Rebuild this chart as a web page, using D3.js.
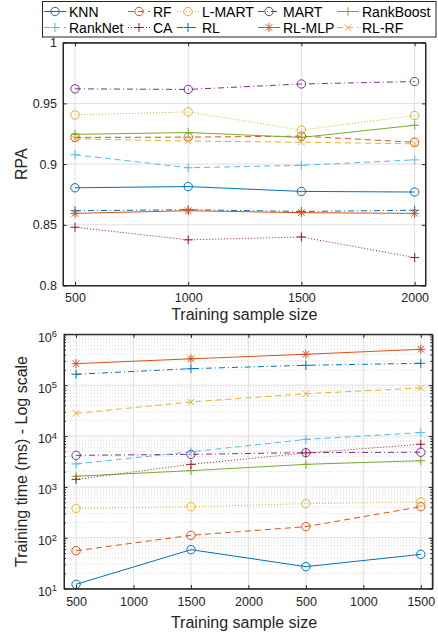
<!DOCTYPE html>
<html>
<head>
<meta charset="utf-8">
<script src="https://cdn.jsdelivr.net/npm/d3@7"></script>
<style>
  body { margin: 0; background: #fff; }
  svg { font-family: "Liberation Sans", Arial, Helvetica, sans-serif; }
</style>
</head>
<body>
<div id="chart"></div>
<script>
// Data.
var methods = ["KNN", "RF", "L-MART", "MART", "RankBoost", "RankNet", "CA", "RL", "RL-MLP", "RL-RF"];

var rpaSizes = [500, 1000, 1500, 2000];
var rpaValues = {
  "KNN":       [0.8805, 0.8815, 0.8775, 0.8770],
  "RF":        [0.9220, 0.9222, 0.9230, 0.9180],
  "L-MART":    [0.9405, 0.9430, 0.9280, 0.9400],
  "MART":      [0.9620, 0.9615, 0.9660, 0.9680],
  "RankBoost": [0.9245, 0.9260, 0.9220, 0.9320],
  "RankNet":   [0.9077, 0.8970, 0.8990, 0.9035],
  "CA":        [0.8480, 0.8376, 0.8400, 0.8230],
  "RL":        [0.8616, 0.8624, 0.8610, 0.8620],
  "RL-MLP":    [0.8594, 0.8616, 0.8600, 0.8594],
  "RL-RF":     [0.9208, 0.9190, 0.9180, 0.9167]
};
var rpaTicks = [0.8, 0.85, 0.9, 0.95, 1];

// Bottom panel: odd x axis with repeating labels; data sits on every other tick.
var timeTickLabels = ["500", "1000", "1500", "2000", "500", "1000", "1500"];
var timeIdx = [0, 2, 4, 6];
var timeValues = {
  "KNN":       [12.2, 58.5, 27.1, 47.3],
  "RF":        [55.8, 112, 166, 409],
  "L-MART":    [379, 409, 469, 506],
  "MART":      [4180, 4370, 4720, 4800],
  "RankBoost": [1620, 2090, 2780, 3280],
  "RankNet":   [2830, 4900, 8600, 11700],
  "CA":        [1410, 2780, 4650, 6900],
  "RL":        [164000, 211000, 246000, 269000],
  "RL-MLP":    [265000, 330000, 405000, 507000],
  "RL-RF":     [28000, 46800, 68000, 88000]
};

// MATLAB-like styles.
var style = {
  "KNN":       { color: "#0072BD", dash: null,      marker: "o" },
  "RF":        { color: "#D95319", dash: "6,4",     marker: "o" },
  "L-MART":    { color: "#EDB120", dash: "1,2",     marker: "o" },
  "MART":      { color: "#7E2F8E", dash: "6,3,1,3", marker: "o" },
  "RankBoost": { color: "#77AC30", dash: null,      marker: "+" },
  "RankNet":   { color: "#4DBEEE", dash: "6,4",     marker: "+" },
  "CA":        { color: "#A2142F", dash: "1,2",     marker: "+" },
  "RL":        { color: "#0072BD", dash: "6,3,1,3", marker: "+" },
  "RL-MLP":    { color: "#D95319", dash: null,      marker: "*" },
  "RL-RF":     { color: "#EDB120", dash: "6,4",     marker: "x" }
};

var svg = d3.select("#chart").append("svg")
  .attr("width", 438)
  .attr("height", 634);

var axisColor = "#262626";
var gridColor = "#dfdfdf";

function drawMarker(g, type, x, y, color) {
  if (type === "o") {
    g.append("circle").attr("cx", x).attr("cy", y).attr("r", 4.2)
      .attr("fill", "none").attr("stroke", color).attr("stroke-width", 1);
  } else if (type === "+") {
    g.append("path").attr("d", `M${x - 4.5},${y}H${x + 4.5}M${x},${y - 4.5}V${y + 4.5}`)
      .attr("stroke", color).attr("stroke-width", 1);
  } else if (type === "x") {
    g.append("path").attr("d", `M${x - 3.3},${y - 3.3}L${x + 3.3},${y + 3.3}M${x - 3.3},${y + 3.3}L${x + 3.3},${y - 3.3}`)
      .attr("stroke", color).attr("stroke-width", 1);
  } else if (type === "*") {
    g.append("path").attr("d", `M${x - 4.5},${y}H${x + 4.5}M${x},${y - 4.5}V${y + 4.5}M${x - 3.3},${y - 3.3}L${x + 3.3},${y + 3.3}M${x - 3.3},${y + 3.3}L${x + 3.3},${y - 3.3}`)
      .attr("stroke", color).attr("stroke-width", 1);
  }
}

function drawSeries(g, xs, ys, xScale, yScale) {
  methods.forEach(function (m) {
    var s = style[m];
    var pts = xs.map((x, i) => [xScale(x), yScale(ys[m][i])]);
    g.append("path")
      .attr("d", d3.line()(pts))
      .attr("fill", "none")
      .attr("stroke", s.color)
      .attr("stroke-width", 1)
      .attr("stroke-dasharray", s.dash);
    pts.forEach(p => drawMarker(g, s.marker, p[0], p[1], s.color));
  });
}

// ---------- Top panel: RPA ----------
var box1 = { left: 63, right: 425.5, top: 42.7, bottom: 285.5 };
var x1 = d3.scaleLinear().domain([447, 2048]).range([box1.left, box1.right]);
var y1 = d3.scaleLinear().domain([0.8, 1]).range([box1.bottom, box1.top]);

var g1 = svg.append("g");

// grid
g1.selectAll(".vgrid").data(rpaSizes).enter().append("line")
  .attr("x1", d => x1(d)).attr("x2", d => x1(d))
  .attr("y1", box1.top).attr("y2", box1.bottom)
  .attr("stroke", gridColor).attr("stroke-width", 1);
g1.selectAll(".hgrid").data(rpaTicks).enter().append("line")
  .attr("x1", box1.left).attr("x2", box1.right)
  .attr("y1", d => y1(d)).attr("y2", d => y1(d))
  .attr("stroke", gridColor).attr("stroke-width", 1);

drawSeries(g1, rpaSizes, rpaValues, x1, y1);

// axes (ticks inside, box on)
var tk = 3.6;
g1.append("g").attr("transform", `translate(0,${box1.bottom})`)
  .call(d3.axisBottom(x1).tickValues(rpaSizes).tickSizeInner(-tk).tickSizeOuter(0).tickPadding(8).tickFormat(d3.format("d")));
g1.append("g").attr("transform", `translate(0,${box1.top})`)
  .call(d3.axisTop(x1).tickValues(rpaSizes).tickSizeInner(-tk).tickSizeOuter(0).tickFormat(""));
g1.append("g").attr("transform", `translate(${box1.left},0)`)
  .call(d3.axisLeft(y1).tickValues(rpaTicks).tickSizeInner(-tk).tickSizeOuter(0).tickPadding(6).tickFormat(d => d === 1 ? "1" : d3.format("")(d)));
g1.append("g").attr("transform", `translate(${box1.right},0)`)
  .call(d3.axisRight(y1).tickValues(rpaTicks).tickSizeInner(-tk).tickSizeOuter(0).tickFormat(""));

g1.append("text")
  .attr("x", (box1.left + box1.right) / 2).attr("y", 320)
  .attr("text-anchor", "middle").attr("font-size", 16).attr("fill", axisColor)
  .text("Training sample size");
g1.append("text")
  .attr("transform", `translate(27,${(box1.top + box1.bottom) / 2}) rotate(-90)`)
  .attr("text-anchor", "middle").attr("font-size", 16).attr("fill", axisColor)
  .text("RPA");

// ---------- Bottom panel: training time ----------
var box2 = { left: 64, right: 432.3, top: 334.3, bottom: 588.7 };
var x2 = d3.scaleLinear().domain([-0.21, 6.2]).range([box2.left, box2.right]);
var y2 = d3.scaleLog().domain([10, 1e6]).range([box2.bottom, box2.top]);

var g2 = svg.append("g");

var decades = [10, 100, 1000, 10000, 100000, 1000000];
var minors = [];
decades.slice(0, -1).forEach(function (d) {
  for (var k = 2; k <= 9; k++) minors.push(d * k);
});

g2.selectAll(".mgrid").data(minors).enter().append("line")
  .attr("x1", box2.left).attr("x2", box2.right)
  .attr("y1", d => y2(d)).attr("y2", d => y2(d))
  .attr("stroke", "#d0d0d0").attr("stroke-width", 0.8)
  .attr("stroke-dasharray", "1,2");
g2.selectAll(".vgrid").data(d3.range(timeTickLabels.length)).enter().append("line")
  .attr("x1", d => x2(d)).attr("x2", d => x2(d))
  .attr("y1", box2.top).attr("y2", box2.bottom)
  .attr("stroke", gridColor).attr("stroke-width", 1);
g2.selectAll(".hgrid").data(decades).enter().append("line")
  .attr("x1", box2.left).attr("x2", box2.right)
  .attr("y1", d => y2(d)).attr("y2", d => y2(d))
  .attr("stroke", gridColor).attr("stroke-width", 1);

drawSeries(g2, timeIdx, timeValues, x2, y2);

g2.append("g").attr("transform", `translate(0,${box2.bottom})`)
  .call(d3.axisBottom(x2).tickValues(d3.range(timeTickLabels.length)).tickSizeInner(-tk).tickSizeOuter(0).tickPadding(8).tickFormat(i => timeTickLabels[i]));
g2.append("g").attr("transform", `translate(0,${box2.top})`)
  .call(d3.axisTop(x2).tickValues(d3.range(timeTickLabels.length)).tickSizeInner(-tk).tickSizeOuter(0).tickFormat(""));
var yLeft = g2.append("g").attr("transform", `translate(${box2.left},0)`)
  .call(d3.axisLeft(y2).tickValues(decades).tickSizeInner(-tk).tickSizeOuter(0).tickPadding(7).tickFormat(""));
g2.append("g").attr("transform", `translate(${box2.right},0)`)
  .call(d3.axisRight(y2).tickValues(decades).tickSizeInner(-tk).tickSizeOuter(0).tickFormat(""));
// minor ticks
g2.append("g").attr("transform", `translate(${box2.left},0)`)
  .call(d3.axisLeft(y2).tickValues(minors).tickSizeInner(-2).tickSizeOuter(0).tickFormat(""));
g2.append("g").attr("transform", `translate(${box2.right},0)`)
  .call(d3.axisRight(y2).tickValues(minors).tickSizeInner(-2).tickSizeOuter(0).tickFormat(""));

// 10^n labels
yLeft.selectAll(".tick").each(function (d) {
  var t = d3.select(this).select("text").text(null);
  t.append("tspan").text("10");
  t.append("tspan").attr("dy", "-0.5em").attr("font-size", "0.75em").text(Math.round(Math.log10(d)));
  t.attr("dy", "0.55em");
});

g2.append("text")
  .attr("x", 244).attr("y", 628)
  .attr("text-anchor", "middle").attr("font-size", 16).attr("fill", axisColor)
  .text("Training sample size");
g2.append("text")
  .attr("transform", `translate(27,${(box2.top + box2.bottom) / 2}) rotate(-90)`)
  .attr("text-anchor", "middle").attr("font-size", 16).attr("fill", axisColor)
  .text("Training time (ms) - Log scale");

// shared axis styling
svg.selectAll(".domain").attr("stroke", axisColor);
svg.selectAll(".tick line").attr("stroke", axisColor);
svg.selectAll(".tick text").attr("fill", axisColor).attr("font-size", 12.5)
  .attr("font-family", "'Liberation Sans', Arial, sans-serif");

// plot boxes
[box1, box2].forEach(function (b) {
  svg.append("rect")
    .attr("x", b.left).attr("y", b.top)
    .attr("width", b.right - b.left).attr("height", b.bottom - b.top)
    .attr("fill", "none").attr("stroke", axisColor).attr("stroke-width", 1);
});

// ---------- Legend ----------
var legend = svg.append("g");
legend.append("rect")
  .attr("x", 42.5).attr("y", 1.5).attr("width", 393.5).attr("height", 35.5)
  .attr("fill", "#fff").attr("stroke", axisColor).attr("stroke-width", 1);

var colX = [44, 128, 177, 258, 337];
var rowY = [11.5, 27.5];
methods.forEach(function (m, i) {
  var cx = colX[i % 5], cy = rowY[Math.floor(i / 5)];
  var s = style[m];
  legend.append("line")
    .attr("x1", cx).attr("x2", cx + 22)
    .attr("y1", cy).attr("y2", cy)
    .attr("stroke", s.color).attr("stroke-width", 1)
    .attr("stroke-dasharray", s.dash);
  drawMarker(legend, s.marker, cx + 11, cy, s.color);
  legend.append("text")
    .attr("x", cx + 25).attr("y", cy).attr("dy", "0.36em")
    .attr("font-size", 14).attr("fill", "#000")
    .text(m);
});
</script>
</body>
</html>
